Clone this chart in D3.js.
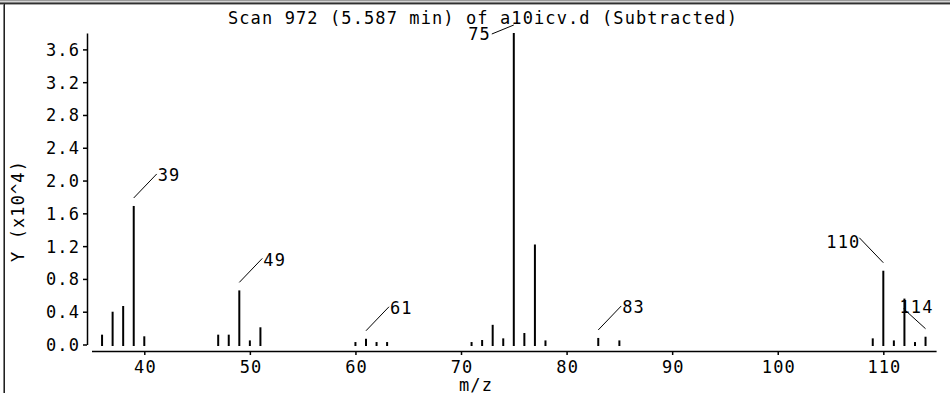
<!DOCTYPE html>
<html>
<head>
<meta charset="utf-8">
<script src="https://cdn.jsdelivr.net/npm/d3@7"></script>
<style>
  html, body { margin: 0; padding: 0; background: #fff; }
  svg { display: block; }
  text { font-family: "DejaVu Sans Mono", monospace; font-size: 17px; letter-spacing: 1.1px; fill: #000; }
</style>
</head>
<body>
<script>
// ---- data ----
const titleText = "Scan 972 (5.587 min) of a10icv.d (Subtracted)";
const xLabel = "m/z";
const yLabel = "Y (x10^4)";
const mz = [36, 37, 38, 39, 40, 47, 48, 49, 50, 51, 60, 61, 62, 63, 71, 72, 73, 74, 75, 76, 77, 78, 83, 85, 109, 110, 111, 112, 113, 114];
const abundance = [0.12, 0.40, 0.47, 1.69, 0.10, 0.12, 0.12, 0.66, 0.05, 0.21, 0.03, 0.07, 0.03, 0.03, 0.03, 0.055, 0.24, 0.075, 3.80, 0.14, 1.22, 0.05, 0.08, 0.05, 0.075, 0.90, 0.05, 0.56, 0.03, 0.095];
const labeledPeaks = [39, 49, 61, 75, 83, 110, 114];
const yTicks = [0, 0.4, 0.8, 1.2, 1.6, 2.0, 2.4, 2.8, 3.2, 3.6];
const yTickLabels = ["0.0", "0.4", "0.8", "1.2", "1.6", "2.0", "2.4", "2.8", "3.2", "3.6"];
const xTicks = [40, 50, 60, 70, 80, 90, 100, 110];
const xTickLabels = ["40", "50", "60", "70", "80", "90", "100", "110"];

// ---- layout ----
const W = 950, H = 393;
const svg = d3.select("body").append("svg").attr("width", W).attr("height", H);

// window frame
svg.append("rect").attr("x", 0).attr("y", 0).attr("width", W).attr("height", 1).attr("fill", "#9a9a9a");
svg.append("rect").attr("x", 0).attr("y", 1).attr("width", W).attr("height", 1).attr("fill", "#d4d4d4");
svg.append("rect").attr("x", 0).attr("y", 2).attr("width", W).attr("height", 1).attr("fill", "#808080");
svg.append("rect").attr("x", 0).attr("y", 3).attr("width", W).attr("height", 1).attr("fill", "#303030");
svg.append("rect").attr("x", 0).attr("y", 4).attr("width", W).attr("height", 1).attr("fill", "#a8a8a8");
svg.append("rect").attr("x", 3).attr("y", 4).attr("width", 1).attr("height", H).attr("fill", "#808080");
svg.append("rect").attr("x", 4).attr("y", 4).attr("width", 1).attr("height", H).attr("fill", "#202020");

const x = d3.scaleLinear().domain([35, 115]).range([91.5, 936.1]);
const y = d3.scaleLinear().domain([0, 3.8]).range([344.5, 33]);
const yAxisX = 87, xAxisY = 351;

// title
svg.append("text").attr("x", 483).attr("y", 24).attr("text-anchor", "middle").text(titleText);

// y axis
const gy = svg.append("g").attr("transform", `translate(${yAxisX},0)`)
  .call(d3.axisLeft(y).tickValues(yTicks).tickSize(4).tickSizeOuter(0)
    .tickFormat((d, i) => yTickLabels[i]));
gy.select(".domain").attr("stroke", "#000").attr("stroke-width", 1.5);
gy.selectAll(".tick line").attr("stroke", "#000").attr("stroke-width", 1.5);
gy.selectAll(".tick text").attr("x", -7).attr("dy", null).attr("y", 6)
  .attr("font-family", null).attr("font-size", null).attr("fill", "#000");
gy.attr("font-family", null).attr("font-size", null);

// x axis
const gx = svg.append("g").attr("transform", `translate(0,${xAxisY})`)
  .call(d3.axisBottom(x).tickValues(xTicks).tickSize(4).tickSizeOuter(0)
    .tickFormat((d, i) => xTickLabels[i]));
gx.select(".domain").attr("stroke", "#000").attr("stroke-width", 1.7);
gx.selectAll(".tick line").attr("stroke", "#000").attr("stroke-width", 1.5);
gx.selectAll(".tick text").attr("dy", null).attr("y", 21.5).attr("dx", 0.6)
  .attr("font-family", null).attr("font-size", null).attr("fill", "#000");
gx.attr("font-family", null).attr("font-size", null);

// axis titles
svg.append("text").attr("x", 476).attr("y", 391).attr("text-anchor", "middle").text(xLabel);
svg.append("text").attr("transform", "translate(23.5,211) rotate(-90)").attr("text-anchor", "middle").text(yLabel);

// bars (stick spectrum)
const peaks = mz.map((m, i) => ({ mz: m, v: abundance[i] }));
svg.append("g").selectAll("line").data(peaks).join("line")
  .attr("x1", d => x(d.mz)).attr("x2", d => x(d.mz))
  .attr("y1", y(0) + 1.5).attr("y2", d => y(d.v))
  .attr("stroke", "#000").attr("stroke-width", 2);

// peak labels with leader lines
const placement = { 75: "leftDown", 110: "upLeft", 114: "upLeftTight" };
const lg = svg.append("g");
peaks.filter(p => labeledPeaks.includes(p.mz)).forEach(p => {
  const bx = x(p.mz), by = y(p.v) - 8;
  const mode = placement[p.mz] || "upRight";
  let ex, ey, tx, ty, anchor;
  if (mode === "upRight") { ex = bx + 23; ey = by - 24; tx = ex + 1; ty = ey + 7.5; anchor = "start"; }
  else if (mode === "leftDown") { ex = bx - 22; ey = by + 9; tx = ex - 1; ty = ey + 6; anchor = "end"; }
  else if (mode === "upLeft") { ex = bx - 24; ey = by - 25; tx = ex + 1; ty = ey + 10; anchor = "end"; }
  else { ex = bx - 22; ey = by - 20; tx = ex + 13; ty = ey + 4.5; anchor = "middle"; }
  lg.append("line").attr("x1", bx).attr("y1", by).attr("x2", ex).attr("y2", ey)
    .attr("stroke", "#000").attr("stroke-width", 1);
  lg.append("text").attr("x", tx).attr("y", ty).attr("text-anchor", anchor).text(String(p.mz));
});
</script>
</body>
</html>
